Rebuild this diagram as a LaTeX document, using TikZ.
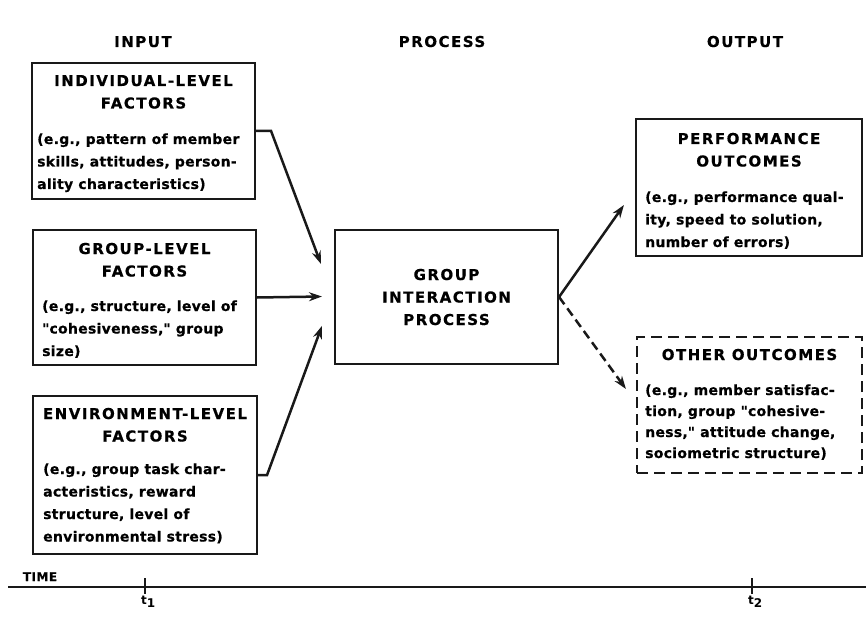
\documentclass[tikz,border=0pt]{standalone}
\usepackage{fontspec}
\setmainfont{DejaVu Sans}
\usetikzlibrary{arrows.meta,calc}

% lettering styles
\newcommand\ttlfont{\fontsize{15}{22.5}\selectfont\bfseries\addfontfeature{LetterSpace=10,FakeBold=0.6}}
\newcommand\bdyfont{\fontsize{14}{22.5}\selectfont\bfseries\addfontfeature{LetterSpace=2,FakeBold=0.6}}
\newcommand\hdrfont{\fontsize{15}{16}\selectfont\bfseries\addfontfeature{LetterSpace=10,FakeBold=0.4}}
\newcommand\qq[1]{\textquotedbl#1\textquotedbl}

\begin{document}
\begin{tikzpicture}[x=1pt,y=-1pt,
  box/.style={draw=black!90,line width=2.1pt,fill=white,inner sep=0pt},
  dbox/.style={box,dash pattern=on 11pt off 6pt},
  ttl/.style={anchor=base,inner sep=0pt,font=\ttlfont},
  bdy/.style={anchor=base west,inner sep=0pt,font=\bdyfont},
  hdr/.style={anchor=base,inner sep=0pt,font=\hdrfont},
  arr/.style={draw=black!90,line width=2.5pt,-{Stealth[length=13pt,width=9pt]}},
  darr/.style={arr,dash pattern=on 9pt off 5pt},
  tline/.style={draw=black!90,line width=2.3pt},
]
\useasboundingbox (0,0) rectangle (866,620);
\fill[white] (0,0) rectangle (866,620);

% column headers
\node[hdr] (hin)  at (143,47) {INPUT};
\node[hdr] (hpr)  at (442,47) {PROCESS};
\node[hdr] (hout) at (745,47) {OUTPUT};

% input boxes
\node[box,minimum width=223pt,minimum height=136pt] (ind) at (143.5,131) {};
\node[ttl] (indT) at (143.5,86) {\parbox[t]{220pt}{\centering INDIVIDUAL-LEVEL\\FACTORS}};
\node[bdy] (indB) at (37,144) {\parbox[t]{215pt}{\raggedright (e.g., pattern of member\\skills, attitudes, person-\\ality characteristics)}};

\node[box,minimum width=223pt,minimum height=135pt] (grp) at (144.5,297.5) {};
\node[ttl] (grpT) at (144.5,254) {\parbox[t]{220pt}{\centering GROUP-LEVEL\\FACTORS}};
\node[bdy] (grpB) at (42,311) {\parbox[t]{215pt}{\raggedright (e.g., structure, level of\\\qq{cohesiveness,} group\\size)}};

\node[box,minimum width=224pt,minimum height=158pt] (env) at (145,475) {};
\node[ttl] (envT) at (145,419) {\parbox[t]{222pt}{\centering ENVIRONMENT-LEVEL\\FACTORS}};
\node[bdy] (envB) at (43,474) {\parbox[t]{215pt}{\raggedright (e.g., group task char-\\acteristics, reward\\structure, level of\\environmental stress)}};

% process box
\node[box,minimum width=223pt,minimum height=134pt] (proc) at (446.5,297) {};
\node[ttl] (procT) at (446.5,280) {\parbox[t]{220pt}{\centering GROUP\\INTERACTION\\PROCESS}};

% output boxes
\node[box,minimum width=226pt,minimum height=137pt] (perf) at (749,187.5) {};
\node[ttl] (perfT) at (749,144) {\parbox[t]{222pt}{\centering PERFORMANCE\\OUTCOMES}};
\node[bdy] (perfB) at (645,202) {\parbox[t]{215pt}{\raggedright (e.g., performance qual-\\ity, speed to solution,\\number of errors)}};

\node[dbox,minimum width=225pt,minimum height=136pt] (oth) at (749.5,405) {};
\node[ttl] (othT) at (749.5,360) {\parbox[t]{222pt}{\centering OTHER OUTCOMES}};
\node[bdy,font=\fontsize{14}{21}\selectfont\bfseries\addfontfeature{LetterSpace=2,FakeBold=0.6}] (othB) at (645,395) {\parbox[t]{215pt}{\raggedright (e.g., member satisfac-\\tion, group \textquotedbl cohesive-\\ness,\textquotedbl{} attitude change,\\sociometric structure)}};

% connectors into the process
\draw[arr] (ind.east) -- ++(15,0) -- ($(proc.north west)+(-13,35)$);
\draw[arr] (grp.east) -- ($(grp.east -| proc.west)+(-12,-1)$);
\draw[arr] (env.east) -- ++(9,0) -- ($(proc.north west)+(-12,97)$);

% connectors out of the process
\draw[arr] (proc.east) -- ($(perf.west)+(-11,17.5)$);
\draw[darr] (proc.east) -- ($(oth.west)+(-10,-16)$);

% time axis
\node[anchor=base,inner sep=0pt,font=\fontsize{12}{14}\selectfont\bfseries\addfontfeature{LetterSpace=4,FakeBold=0.5}] (time) at (40,581) {TIME};
\coordinate (tl0) at (8,587);
\coordinate (tl1) at (866,587);
\draw[tline] (tl0) -- (tl1);
\coordinate (tk1) at (145,587);
\coordinate (tk2) at (752,587);
\draw[tline] ($(tk1)+(0,-9)$) -- ($(tk1)+(0,7)$);
\draw[tline] ($(tk2)+(0,-9)$) -- ($(tk2)+(0,7)$);
\node[anchor=base west,inner sep=0pt,font=\fontsize{12}{14}\selectfont\bfseries] (t1) at (141,604) {t\raisebox{-3pt}{1}};
\node[anchor=base west,inner sep=0pt,font=\fontsize{12}{14}\selectfont\bfseries] (t2) at (748,604) {t\raisebox{-3pt}{2}};
\end{tikzpicture}
\end{document}
